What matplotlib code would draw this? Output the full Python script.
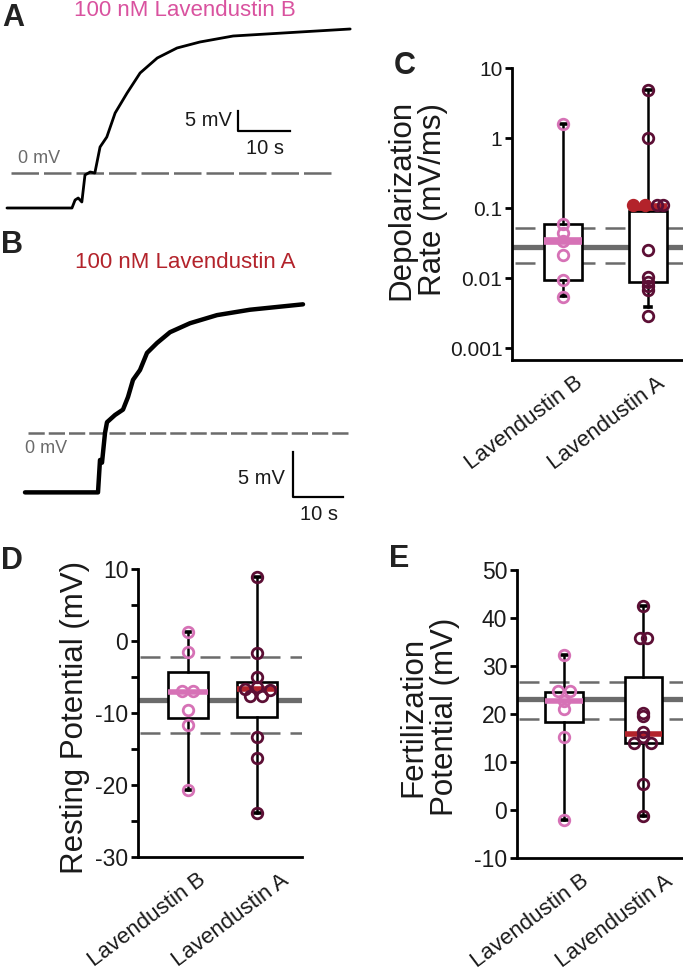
import matplotlib.pyplot as plt
import matplotlib.transforms as mtransforms
from matplotlib.ticker import NullLocator

plt.rcParams['font.family'] = ['Liberation Sans', 'DejaVu Sans']
plt.rcParams['axes.unicode_minus'] = False

W, H = 683, 975

PINK = '#d672b6'
PINK_TITLE = '#d9529f'
MAROON = '#5c0f35'
RED = '#b3232b'
GRAY = '#6b6b6b'
INK = '#1a1a1a'

groups = ["Lavendustin B", "Lavendustin A"]

# recorded traces, time (s) and membrane potential (mV)
lavB_t = [-0.2, 12.3, 12.9, 13.5, 14.2, 14.8, 15.8, 16.7, 17.7, 19.0, 20.6, 22.9,
          25.4, 28.7, 32.5, 36.9, 43.3, 52.9, 65.8]
lavB_mv = [-8.75, -8.75, -6.75, -6.25, -7.25, -0.5, 0.25, 0.0, 6.5, 9.0, 15.0, 20.0,
           25.0, 28.75, 31.25, 32.75, 34.25, 35.0, 36.0]

lavA_t = [0, 14.6, 15.0, 15.4, 16.0, 16.4, 18.0, 19.6, 20.6, 21.6, 23.0, 24.4, 26.4,
          29.0, 33.0, 38.4, 45.0, 55.6]
lavA_mv = [-6.6, -6.6, -3.0, -3.3, 0.0, 1.2, 2.0, 2.6, 4.0, 5.9, 7.0, 8.9, 10.0,
           11.2, 12.2, 13.1, 13.7, 14.3]

# C: depolarization rate (mV/ms)
rate_q1 = [0.0093, 0.0089]
rate_med = [0.034, 0.105]
rate_q3 = [0.060, 0.090]
rate_lo = [0.0055, 0.0038]
rate_hi = [1.58, 4.85]
rate_b = [1.58, 0.060, 0.0436, 0.034, 0.0215, 0.0093, 0.0054]
rate_a = [4.85, 0.99, 0.11, 0.11, 0.11, 0.11, 0.025, 0.0105, 0.0089, 0.0077, 0.0068, 0.0029]
rate_ref = [0.028, 0.052, 0.0162]   # mean, upper, lower

# D: resting potential (mV)
rest_q1 = [-10.7, -10.5]
rest_med = [-7.05, -6.7]
rest_q3 = [-4.35, -5.74]
rest_lo = [-20.7, -23.9]
rest_hi = [1.2, 8.9]
rest_b = [1.2, -1.5, -7.0, -7.0, -9.6, -11.7, -20.7]
rest_a = [8.9, -1.7, -4.95, -6.35, -6.6, -6.8, -7.6, -7.6, -13.4, -16.2, -23.9]
rest_ref = [-8.2, -2.17, -12.75]

# E: fertilization potential (mV)
fert_q1 = [18.3, 13.9]
fert_med = [22.8, 15.9]
fert_q3 = [24.55, 27.8]
fert_lo = [-2.0, -1.3]
fert_hi = [32.3, 42.6]
fert_b = [32.3, 24.7, 24.7, 22.8, 21.0, 15.3, -2.0]
fert_a = [42.6, 35.9, 35.9, 20.2, 19.5, 16.35, 15.3, 13.9, 13.9, 5.4, -1.3]
fert_ref = [23.1, 26.75, 18.9]


def rect(l, t, r, b):
    return [l / W, 1 - b / H, (r - l) / W, (b - t) / H]


def ftext(x, y, s, **kw):
    fig.text(x / W, 1 - y / H, s, **kw)


fig = plt.figure(figsize=(W / 100, H / 100), dpi=100)


def trace_panel(box, xlim, ylim, t, mv, lw, zero_end, dash, bar, color, title, title_y):
    ax = fig.add_axes(rect(*box))
    ax.set_xlim(*xlim)
    ax.set_ylim(*ylim)
    ax.axis('off')
    ax.plot([t[0] if t[0] > 0 else 0.5, zero_end], [0, 0], color=GRAY, lw=1.8,
            linestyle=(0, dash))
    ax.plot(t, mv, color='black', lw=lw, solid_joinstyle='round', solid_capstyle='round')
    bx, by, = bar[0], bar[1]
    ax.plot([bx, bx, bx + 10], [by + 5, by, by], color='black', lw=1.6)
    ftext(185, title_y, title, color=color, fontsize=16, ha='center', va='center')
    return ax, bx, by


# panel A
axA, bx, by = trace_panel((0, 0, 360, 230), (-1.54, 67.69), (-14.25, 43.25), lavB_t, lavB_mv,
                          2.0, 62.9, (11, 2), (44.2, 10.5), PINK_TITLE,
                          "100 nM Lavendustin B", 11)
axA.text(bx - 1.2, by + 2.6, "5 mV", ha='right', va='center', fontsize=14.5, color=INK)
axA.text(bx + 5.2, by - 4.3, "10 s", ha='center', va='center', fontsize=14.5, color=INK)
axA.text(1.9, 3.7, "0 mV", ha='left', va='center', fontsize=13, color=GRAY)

# panel B
axB, bx, by = trace_panel((0, 230, 360, 530), (-5, 67), (-10.78, 22.56), lavA_t, lavA_mv,
                          3.2, 64.6, (6.5, 1.6), (53.6, -7.11), RED,
                          "100 nM Lavendustin A", 262)
axB.text(bx - 1.6, by + 2.0, "5 mV", ha='right', va='center', fontsize=14.5, color=INK)
axB.text(bx + 5.3, by - 2.0, "10 s", ha='center', va='center', fontsize=14.5, color=INK)
axB.text(0, -1.7, "0 mV", ha='left', va='center', fontsize=13, color=GRAY)


def box_panel(box, xlim, width, q1, med, q3, lo, hi, pts, jits, filled, ref, medlw, lab_dx):
    ax = fig.add_axes(rect(*box))
    ax.set_xlim(*xlim)
    stats = []
    for i in range(2):
        stats.append(dict(q1=q1[i], med=med[i], q3=q3[i], whislo=lo[i], whishi=hi[i],
                          fliers=[], label=groups[i]))
    ax.axhline(ref[0], xmin=0.015, xmax=1, color=GRAY, lw=3.8, zorder=1)
    for r in ref[1:]:
        ax.axhline(r, xmin=0.015, xmax=1, color=GRAY, lw=1.8, linestyle=(0, (8, 4)), zorder=1)
    bp = ax.bxp(stats, positions=[1, 2], widths=width, patch_artist=True,
                boxprops=dict(facecolor='white', edgecolor='black', lw=1.9),
                whiskerprops=dict(color='black', lw=1.8),
                capprops=dict(color='black', lw=2.6),
                medianprops=dict(lw=medlw, solid_capstyle='butt'),
                capwidths=0.07, manage_ticks=False, zorder=2)
    bp['medians'][0].set_color(PINK)
    bp['medians'][1].set_color(RED)
    edge = [PINK, MAROON]
    for i in range(2):
        for v, j, f in zip(pts[i], jits[i], filled[i]):
            ax.plot(1 + i + j, v, 'o', ms=7.6, mew=2.0, mec=RED if f else edge[i],
                    mfc=RED if f else 'none', zorder=4)
    for s in ['top', 'right']:
        ax.spines[s].set_visible(False)
    for s in ['left', 'bottom']:
        ax.spines[s].set_linewidth(2.0)
    ax.tick_params(axis='y', length=5, width=2.0, labelsize=16.5, labelcolor=INK, pad=2)
    ax.tick_params(axis='x', length=0, labelsize=16, labelcolor=INK, pad=9)
    ax.set_xticks([1, 2])
    ax.set_xticklabels(groups, rotation=37, ha='right', va='top', rotation_mode='anchor')
    for lab, dx in zip(ax.get_xticklabels(), lab_dx):
        off = mtransforms.ScaledTranslation(dx / 100, 0, fig.dpi_scale_trans)
        lab.set_transform(lab.get_transform() + off)
    return ax


# panel C
axC = box_panel((512, 68, 683, 360), (0.4, 2.41), 0.44, rate_q1, rate_med, rate_q3, rate_lo,
                rate_hi, [rate_b, rate_a],
                [[0] * 7, [0, 0, -0.18, -0.035, 0.105, 0.18, 0, 0, 0, 0, 0, 0]],
                [[False] * 7, [False, False, True, True] + [False] * 8],
                rate_ref, 5.5, [11, 8])
axC.set_yscale('log')
axC.set_ylim(10 ** -3.17, 10)
axC.set_yticks([0.001, 0.01, 0.1, 1, 10])
axC.set_yticklabels(['0.001', '0.01', '0.1', '1', '10'])
axC.yaxis.set_minor_locator(NullLocator())
axC.tick_params(axis='y', labelsize=15)

# panel D
axD = box_panel((138, 569, 302, 857), (0.275, 2.65), 0.58, rest_q1, rest_med, rest_q3, rest_lo,
                rest_hi, [rest_b, rest_a],
                [[0, 0, -0.09, 0.07, 0, 0, 0], [0, 0, 0, 0, -0.17, 0.19, -0.1, 0.07, 0, 0, 0]],
                [[False] * 7, [False] * 11],
                rest_ref, 4.0, [9, 23])
axD.set_ylim(-30, 10)
axD.set_yticks(range(-30, 11, 5))
axD.set_yticklabels(['-30', '', '-20', '', '-10', '', '0', '', '10'])

# panel E
axE = box_panel((517, 570, 683, 858), (0.40, 2.5), 0.48, fert_q1, fert_med, fert_q3, fert_lo,
                fert_hi, [fert_b, fert_a],
                [[0, -0.076, 0.076, 0, 0, 0, 0], [0, -0.05, 0.04, 0, 0, 0, 0, -0.12, 0.1, 0, 0]],
                [[False] * 7, [False] * 11],
                fert_ref, 4.0, [16, 21])
axE.set_ylim(-10, 50)
axE.set_yticks(range(-10, 51, 10))

# axis titles
ftext(417, 200, "Depolarization\nRate (mV/ms)", rotation=90, ha='center', va='center',
      fontsize=22.5, color=INK, linespacing=1.05)
ftext(75, 717, "Resting Potential (mV)", rotation=90, ha='center', va='center',
      fontsize=22.5, color=INK)
ftext(429, 717, "Fertilization\nPotential (mV)", rotation=90, ha='center', va='center',
      fontsize=22.5, color=INK, linespacing=1.05)

# panel letters
for letter, x, y in [("A", 13, 18), ("B", 12, 245), ("C", 405, 66), ("D", 12, 561), ("E", 399, 559)]:
    ftext(x, y, letter, fontsize=22, fontweight='bold', color='#222222', ha='center', va='center')

fig.savefig('out.png', dpi=100)
